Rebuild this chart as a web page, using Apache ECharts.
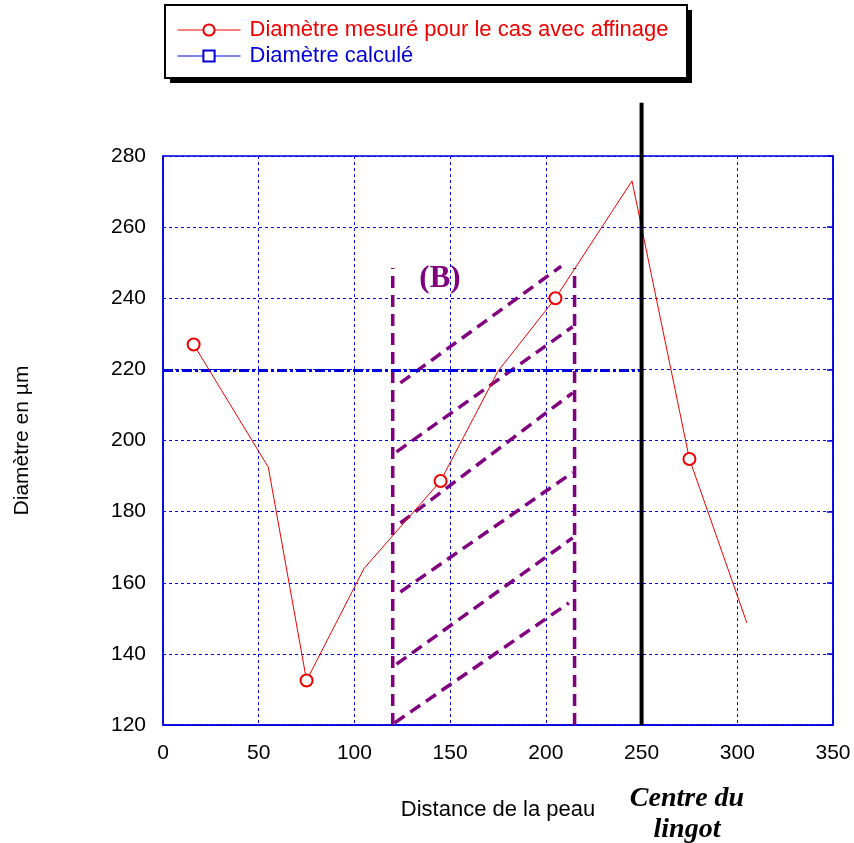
<!DOCTYPE html>
<html>
<head>
<meta charset="utf-8">
<script src="https://cdn.jsdelivr.net/npm/echarts@6/dist/echarts.min.js"></script>
<style>html,body{margin:0;padding:0;background:#fff}#c{width:854px;height:843px}</style>
</head>
<body>
<div id="c"></div>
<script>
// ---- data ----
const measuredX = [16, 55, 75, 105, 145, 175, 205, 245, 275, 305];
const measuredY = [227, 192.5, 132.5, 164, 188.6, 219.5, 240, 273, 194.8, 148.7];
const measuredMarker = [true, false, true, false, true, false, true, false, true, false];
const calcX = [0, 250];
const calcY = [219.7, 219.7];
const centreX = [250, 250];
const centreY = [120, 295];
const zoneLeftX = [120, 120];
const zoneRightX = [215, 215];
const zoneY = [120, 248.5];
// hatch lines: [x1, y1, x2, y2]
const hatch1 = [124, 216.2, 208, 249];
const hatch2 = [122, 196.8, 214, 232];
const hatch3 = [124, 176.8, 214, 213.4];
const hatch4 = [124, 157.4, 214, 191];
const hatch5 = [122, 137.1, 214, 172.6];
const hatch6 = [121, 120.6, 212, 154.3];
const hatches = [hatch1, hatch2, hatch3, hatch4, hatch5, hatch6];
const xTicks = [0, 50, 100, 150, 200, 250, 300, 350];
const yTicks = [120, 140, 160, 180, 200, 220, 240, 260, 280];

const FONT = 'Liberation Sans, Arial, sans-serif';
const SERIF = 'Liberation Serif, Times New Roman, serif';
const PURPLE = '#800080';
const RED = '#ee0000';
const BLUE = '#0000dd';

const chart = echarts.init(document.getElementById('c'), null, {renderer: 'canvas'});

const purpleLine = (name, data) => ({
  type: 'line', name: name, data: data, symbol: 'none', silent: true,
  lineStyle: {color: PURPLE, width: 3.5, type: [12, 7]}, z: 3, clip: false
});

const series = [
  {
    type: 'line', name: 'Diamètre mesuré pour le cas avec affinage',
    data: measuredX.map((x, i) => ({value: [x, measuredY[i]], symbol: measuredMarker[i] ? 'emptyCircle' : 'none'})),
    symbol: 'emptyCircle', symbolSize: 12, showAllSymbol: true,
    lineStyle: {color: RED, width: 1}, itemStyle: {color: RED, borderWidth: 1},
    z: 6
  },
  {
    type: 'line', name: 'Diamètre calculé',
    data: calcX.map((x, i) => ({value: [x, calcY[i]], symbol: 'none'})),
    symbol: 'emptyRect', symbolSize: 12,
    lineStyle: {color: BLUE, width: 3, type: [10, 3, 3, 3]}, itemStyle: {color: BLUE},
    z: 5
  },
  {
    type: 'line', name: 'centre', data: centreX.map((x, i) => [x, centreY[i]]),
    symbol: 'none', lineStyle: {color: '#000', width: 4}, clip: false, z: 7, silent: true
  },
  purpleLine('zoneL', zoneLeftX.map((x, i) => [x, zoneY[i]])),
  purpleLine('zoneR', zoneRightX.map((x, i) => [x, zoneY[i]]))
];
hatches.forEach((h, k) => series.push(purpleLine('h' + k, [[h[0], h[1]], [h[2], h[3]]])));

chart.setOption({
  animation: false,
  backgroundColor: '#fff',
  grid: {left: 163, right: 21, top: 156, bottom: 118, show: true, borderColor: BLUE, borderWidth: 1.5,
         outerBoundsMode: 'none', containLabel: false},
  legend: {
    left: 177, top: 19, orient: 'vertical',
    padding: 0, itemGap: 4, itemWidth: 63, itemHeight: 14,
    data: [
      {name: 'Diamètre mesuré pour le cas avec affinage', textStyle: {color: RED},
       lineStyle: {color: RED, width: 1, type: 'solid'}},
      {name: 'Diamètre calculé', textStyle: {color: BLUE},
       lineStyle: {color: BLUE, width: 1, type: 'solid'}}
    ],
    textStyle: {fontFamily: FONT, fontSize: 22, padding: [0, 0, 0, 4]},
    z: 20
  },
  xAxis: {
    type: 'value', min: 0, max: 350, interval: 50,
    name: 'Distance de la peau', nameLocation: 'middle', nameGap: 74,
    nameTextStyle: {fontFamily: FONT, fontSize: 22, color: '#000'},
    axisLine: {show: true, lineStyle: {color: BLUE, width: 1.5}},
    axisTick: {show: false},
    axisLabel: {fontFamily: FONT, fontSize: 21, color: '#000', margin: 18,
      formatter: v => xTicks.includes(v) ? String(v) : ''},
    splitLine: {show: true, lineStyle: {color: '#0000ff', width: 1, type: [3, 3]}}
  },
  yAxis: [{
    type: 'value', min: 120, max: 280, interval: 20,
    name: 'Diamètre en µm', nameLocation: 'middle', nameRotate: 90, nameGap: 130,
    nameTextStyle: {fontFamily: FONT, fontSize: 21, color: '#000'},
    axisLine: {show: true, lineStyle: {color: BLUE, width: 1.5}},
    axisTick: {show: false},
    axisLabel: {fontFamily: FONT, fontSize: 21, color: '#000', margin: 17,
      formatter: v => yTicks.includes(v) ? String(v) : ''},
    splitLine: {show: true, lineStyle: {color: '#0000ff', width: 1, type: [3, 3]}}
  }, {
    type: 'value', min: 120, max: 280, interval: 20, position: 'right',
    axisLine: {show: true, lineStyle: {color: BLUE, width: 1.5}},
    axisTick: {show: true, inside: true, length: 6, lineStyle: {color: BLUE, width: 1.5}},
    axisLabel: {show: false}, splitLine: {show: false}
  }],
  series: series,
  graphic: [
    {type: 'rect', z: 1, shape: {x: 170, y: 10, width: 522, height: 73}, style: {fill: '#000'}},
    {type: 'rect', z: 2, shape: {x: 165, y: 5, width: 522, height: 73}, style: {fill: '#fff', stroke: '#000', lineWidth: 2}},
    {type: 'text', z: 10, x: 440, y: 279, style: {text: '(B)', fill: PURPLE, font: 'bold 31px ' + SERIF,
      align: 'center', verticalAlign: 'middle'}},
    {type: 'text', z: 10, x: 687, y: 783, style: {text: 'Centre du\nlingot', fill: '#000', align: 'center',
      verticalAlign: 'top', font: 'italic bold 28px ' + SERIF, lineHeight: 31}}
  ]
});
</script>
</body>
</html>
